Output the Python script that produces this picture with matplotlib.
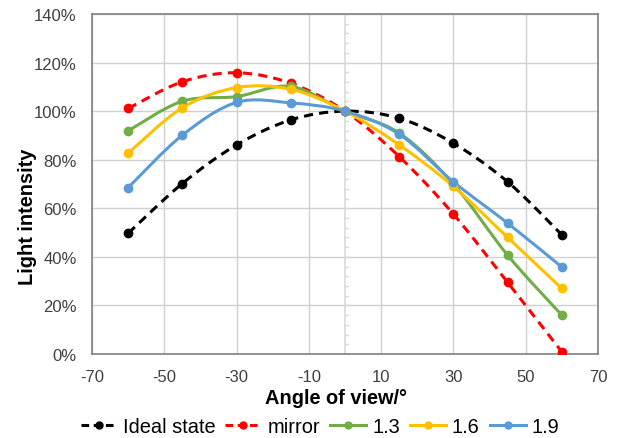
import matplotlib
matplotlib.use("Agg")
import matplotlib.pyplot as plt
from matplotlib.path import Path
from matplotlib.patches import PathPatch
from matplotlib.lines import Line2D
from matplotlib.ticker import FuncFormatter
import numpy as np

plt.rcParams['font.family'] = ['Liberation Sans', 'DejaVu Sans']
plt.rcParams['axes.unicode_minus'] = False  # excel style hyphen minus

angles = [-60, -45, -30, -15, 0, 15, 30, 45, 60]
ideal_state = [49.7, 70.2, 86.1, 96.4, 100, 97.1, 86.8, 70.9, 49.1]
mirror = [101.1, 112.1, 115.8, 111.5, 100, 81.3, 57.6, 29.5, 0.9]
ratio_13 = [91.9, 104.1, 106.0, 110.2, 100, 91.0, 70.0, 40.7, 16.0]
ratio_16 = [82.7, 101.4, 109.7, 109.0, 100, 86.1, 69.0, 48.0, 27.0]
ratio_19 = [68.5, 90.1, 103.6, 103.4, 100, 90.5, 70.9, 53.9, 35.8]

series_names = ["Ideal state", "mirror", "1.3", "1.6", "1.9"]
series_values = [ideal_state, mirror, ratio_13, ratio_16, ratio_19]
colors = ["black", "#ff0000", "#70ad47", "#ffc000", "#5b9bd5"]
dashed = [True, True, False, False, False]


def smooth_path(xs, ys):
    """excel style smoothed line - bezier segments through the points"""
    pts = np.column_stack([xs, ys]).astype(float)
    verts = [pts[0]]
    codes = [Path.MOVETO]
    n = len(pts)
    for i in range(n - 1):
        p0 = pts[i - 1] if i > 0 else pts[i]
        p1 = pts[i]
        p2 = pts[i + 1]
        p3 = pts[i + 2] if i + 2 < n else pts[i + 1]
        c1 = p1 + (p2 - p0) / 6
        c2 = p2 - (p3 - p1) / 6
        verts += [c1, c2, p2]
        codes += [Path.CURVE4] * 3
    return Path(verts, codes)


fig = plt.figure(figsize=(6.19, 4.39), dpi=100)
ax = fig.add_axes([0.1486, 0.1913, 0.8174, 0.7745])

ax.set_xlim(-70, 70)
ax.set_ylim(0, 140)
ax.set_xticks(np.arange(-70, 71, 20))
ax.set_yticks(np.arange(0, 141, 20))
ax.yaxis.set_major_formatter(FuncFormatter(lambda v, p: f"{v:.0f}%"))
ax.grid(True, color="#d0d0d0", linewidth=1)
ax.set_axisbelow(True)
for sp in ax.spines.values():
    sp.set_color("#808080")
    sp.set_linewidth(1.2)
ax.tick_params(length=0, labelsize=12, colors="#404040", pad=11)

# the value axis crossing at 0, with its minor ticks
ax.axvline(0, color="#d9d9d9", linewidth=1.2, zorder=1)
for yv in np.arange(0, 141, 4):
    ax.plot([0, 0.9], [yv, yv], color="#d9d9d9", linewidth=1, zorder=1)

handles = []
for name, vals, col, dash in zip(series_names, series_values, colors, dashed):
    ls = (0, (3, 2)) if dash else "-"
    patch = PathPatch(smooth_path(angles, vals), fill=False, edgecolor=col,
                      linewidth=2.2, linestyle=ls, transform=ax.transData, zorder=3)
    ax.add_patch(patch)
    ax.plot(angles, vals, linestyle="none", marker="o", markersize=6,
            color=col, zorder=4)
    handles.append(Line2D([0, 0.5, 1], [0, 0, 0], color=col, linewidth=2.2,
                          linestyle=(0, (2.5, 1.5)) if dash else "-",
                          marker="o", markersize=5, markevery=[1]))

ax.set_xlabel("Angle of view/°", fontsize=14.4, fontweight="bold")
ax.set_ylabel("Light intensity", fontsize=14.4, fontweight="bold")
ax.xaxis.set_label_coords(0.483, -0.10)
ax.yaxis.set_label_coords(-0.109, 0.406)

fig.legend(handles=handles, labels=series_names, loc="center", ncol=5,
           bbox_to_anchor=(0.517, 0.027), frameon=False, fontsize=14.4,
           handlelength=1.8, columnspacing=0.5, handletextpad=0.3,
           borderpad=0)

fig.savefig("out.png", dpi=100)
